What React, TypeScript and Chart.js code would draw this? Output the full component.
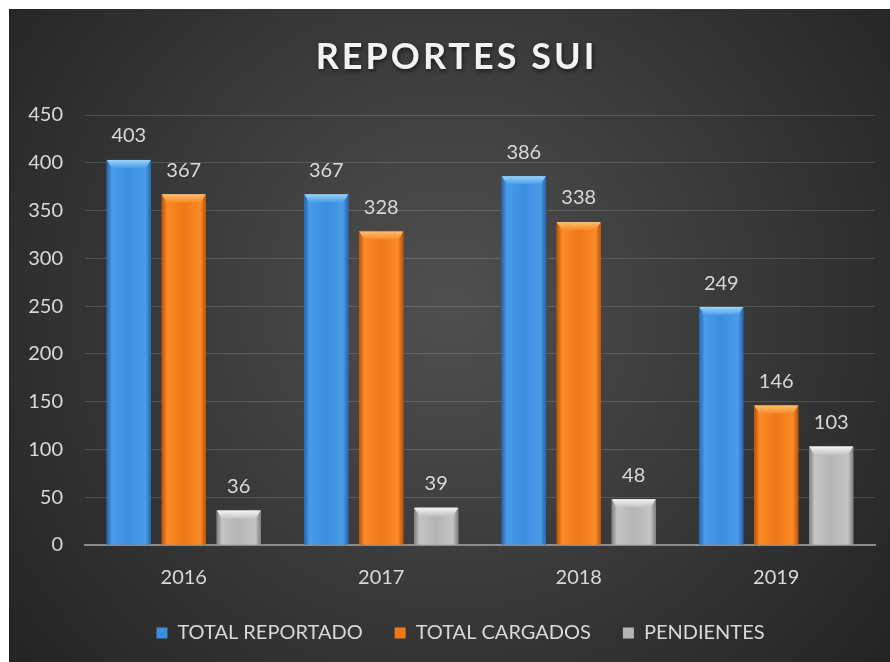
import React, { useEffect, useRef } from "react";
import { Chart, registerables } from "chart.js";
Chart.register(...registerables);

const title = "REPORTES SUI";
const categories = ["2016", "2017", "2018", "2019"];
const seriesNames = ["TOTAL REPORTADO", "TOTAL CARGADOS", "PENDIENTES"];
const totalReportado = [403, 367, 386, 249];
const totalCargados = [367, 328, 338, 146];
const pendientes = [36, 39, 48, 103];
const yMin = 0;
const yMax = 450;
const yStep = 50;

const FONT = "Lato, 'Open Sans', sans-serif";
const TXT = "#d9d9d9";

const palettes = [
  { flat: "#3b8de0", edge: "#2566b0", mid: "#4a9ce8", cap: "#9ad6f7" },
  { flat: "#f07818", edge: "#b9520a", mid: "#fb8a26", cap: "#fbbf70" },
  { flat: "#b5b5b5", edge: "#7f7f7f", mid: "#c4c4c4", cap: "#f4f4f4" },
];

const bgPlugin = {
  id: "bg",
  beforeDraw(chart: any) {
    const { ctx, width, height } = chart;
    ctx.save();
    const g = ctx.createRadialGradient(width / 2, height * 0.45, 10, width / 2, height * 0.45, width * 0.62);
    g.addColorStop(0, "#4f4f4f");
    g.addColorStop(1, "#252525");
    ctx.fillStyle = g;
    ctx.fillRect(0, 0, width, height);
    ctx.restore();
  },
};

const titlePlugin = {
  id: "titleText",
  afterDraw(chart: any) {
    const { ctx, width } = chart;
    ctx.save();
    ctx.font = `bold 36px ${FONT}`;
    (ctx as any).letterSpacing = "3px";
    ctx.textAlign = "center";
    ctx.textBaseline = "middle";
    ctx.shadowColor = "rgba(0,0,0,0.6)";
    ctx.shadowBlur = 4;
    ctx.shadowOffsetX = 1;
    ctx.shadowOffsetY = 2;
    ctx.fillStyle = "#f2f2f2";
    ctx.fillText(title, width / 2 + 7, 48);
    ctx.restore();
  },
};

const legendShiftPlugin = {
  id: "legendShift",
  afterLayout(chart: any) {
    const lg = chart.legend;
    if (!lg) return;
    const target = chart.width / 2 + 11;
    const dx = target - (lg.left + lg.right) / 2;
    lg.left += dx;
    lg.right += dx;
  },
};

const barStylePlugin = {
  id: "barStyle",
  afterDatasetsDraw(chart: any) {
    const { ctx } = chart;
    chart.data.datasets.forEach((ds: any, di: number) => {
      const meta = chart.getDatasetMeta(di);
      const p = palettes[di];
      meta.data.forEach((bar: any, i: number) => {
        const { x, y, base, width } = bar.getProps(["x", "y", "base", "width"], true);
        const l = x - width / 2;
        const r = x + width / 2;
        ctx.save();
        const g = ctx.createLinearGradient(l, 0, r, 0);
        g.addColorStop(0, p.edge);
        g.addColorStop(0.12, p.mid);
        g.addColorStop(0.5, p.flat);
        g.addColorStop(0.88, p.mid);
        g.addColorStop(1, p.edge);
        ctx.fillStyle = g;
        ctx.fillRect(l, y, width, base - y);
        const h = Math.min(8, (base - y) / 2);
        const cg = ctx.createLinearGradient(0, y, 0, y + h);
        cg.addColorStop(0, p.cap);
        cg.addColorStop(1, p.mid);
        ctx.fillStyle = cg;
        ctx.beginPath();
        ctx.moveTo(l, y);
        ctx.lineTo(r, y);
        ctx.lineTo(r - 5, y + h);
        ctx.lineTo(l + 5, y + h);
        ctx.closePath();
        ctx.fill();
        ctx.fillStyle = TXT;
        ctx.font = `20px ${FONT}`;
        ctx.textAlign = "center";
        ctx.textBaseline = "middle";
        ctx.fillText(String(ds.data[i]), x, y - 24);
        ctx.restore();
      });
    });
  },
};

export default function App() {
  const ref = useRef<HTMLCanvasElement | null>(null);
  useEffect(() => {
    if (!ref.current) return;
    const chart = new Chart(ref.current, {
      type: "bar",
      data: {
        labels: categories,
        datasets: [
          { label: seriesNames[0], data: totalReportado, backgroundColor: palettes[0].flat },
          { label: seriesNames[1], data: totalCargados, backgroundColor: palettes[1].flat },
          { label: seriesNames[2], data: pendientes, backgroundColor: palettes[2].flat },
        ],
      },
      options: {
        animation: false,
        responsive: false,
        devicePixelRatio: 1,
        layout: { padding: { left: 0, right: 15, top: 106, bottom: 9 } },
        datasets: { bar: { categoryPercentage: 0.835, barPercentage: 0.8 } },
        plugins: {
          title: { display: false },
          legend: {
            position: "bottom",
            labels: {
              color: TXT,
              font: { family: FONT, size: 20 },
              boxWidth: 11,
              boxHeight: 11,
              padding: 32,
            },
          },
          tooltip: { enabled: false },
        },
        scales: {
          x: {
            grid: { display: false, drawTicks: false },
            border: { display: true, color: "#8c8c8c", width: 2 },
            ticks: { color: TXT, font: { family: FONT, size: 20 }, padding: 21 },
            afterFit: (s: any) => {
              s.height -= 20;
            },
          },
          y: {
            min: yMin,
            max: yMax,
            ticks: { stepSize: yStep, color: TXT, font: { family: FONT, size: 20 }, padding: 22 },
            grid: { color: "rgba(255,255,255,0.14)", drawTicks: false },
            border: { display: false },
            afterFit: (s: any) => {
              s.width = 76;
            },
          },
        },
      },
      plugins: [bgPlugin, legendShiftPlugin, barStylePlugin, titlePlugin],
    });
    return () => chart.destroy();
  }, []);
  return (
    <div style={{ position: "fixed", left: 9, top: 9, width: 881, height: 653 }}>
      <canvas ref={ref} width={881} height={653} style={{ display: "block" }} />
    </div>
  );
}
